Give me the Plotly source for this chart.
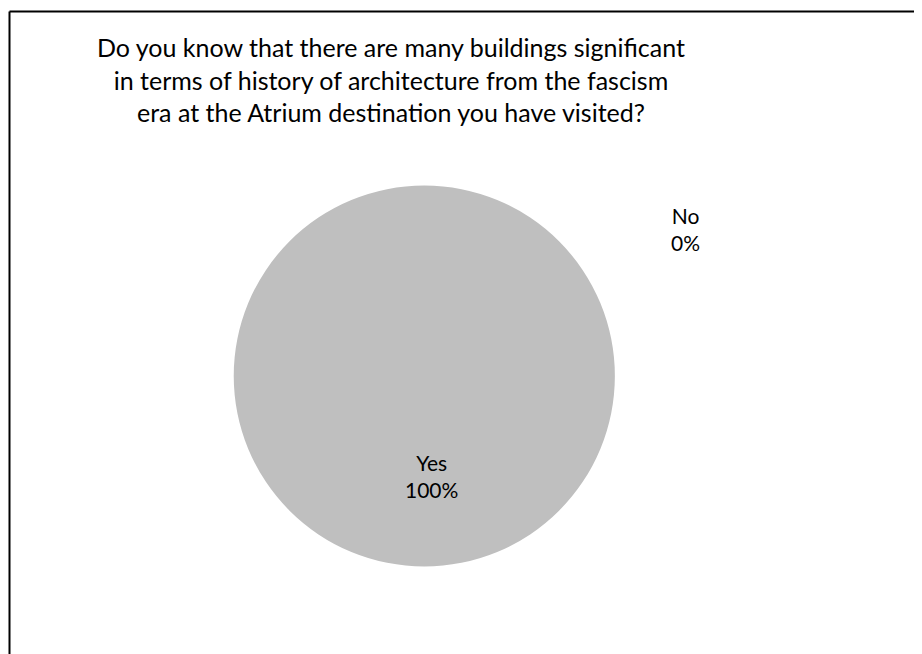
import plotly.graph_objects as go

labels = ["Yes", "No"]
values = [100, 0]
percents = ["100%", "0%"]
colors = ["#BFBFBF", "#A5A5A5"]
title_text = ("Do you know that there are many buildings significant<br>"
              "in terms of history of architecture from the fascism<br>"
              "era at the Atrium destination you have visited?")

OFF = 8  # page body margin
W, H = 922 - OFF, 654 - OFF
FONT = "Lato"


def fx(px):
    return (px - OFF) / W


def fy(py):
    return 1 - (py - OFF) / H


fig = go.Figure(go.Pie(
    labels=labels, values=values, marker=dict(colors=colors, line=dict(width=0)),
    sort=False, direction="clockwise", rotation=0, textinfo="none",
    showlegend=False,
    domain=dict(x=[fx(424.3 - 190.6), fx(424.3 + 190.6)],
                y=[fy(566.5), fy(185.5)]),
))

label_pos = {"Yes": (431, 476), "No": (685, 229.5)}
annotations = []
for lab, pct in zip(labels, percents):
    px, py = label_pos[lab]
    annotations.append(dict(text=f"{lab}<br>{pct}", x=fx(px), y=fy(py),
                            xref="paper", yref="paper", showarrow=False,
                            xanchor="center", yanchor="middle",
                            font=dict(family=FONT, size=21, color="#000")))
annotations.append(dict(text=title_text, x=fx(391), y=fy(79),
                        xref="paper", yref="paper", showarrow=False,
                        xanchor="center", yanchor="middle", align="center",
                        font=dict(family=FONT, size=25, color="#000")))

shapes = [
    dict(type="line", xref="paper", yref="paper", x0=fx(9.5), x1=fx(9.5),
         y0=-0.05, y1=fy(11.5), line=dict(color="#000", width=2)),
    dict(type="line", xref="paper", yref="paper", x0=fx(9.5), x1=1.01,
         y0=fy(11.5), y1=fy(11.5), line=dict(color="#000", width=2)),
]

fig.update_layout(width=W, height=H, margin=dict(l=0, r=0, t=0, b=0),
                  paper_bgcolor="white", plot_bgcolor="white",
                  annotations=annotations, shapes=shapes)
fig.write_html("out.html")
